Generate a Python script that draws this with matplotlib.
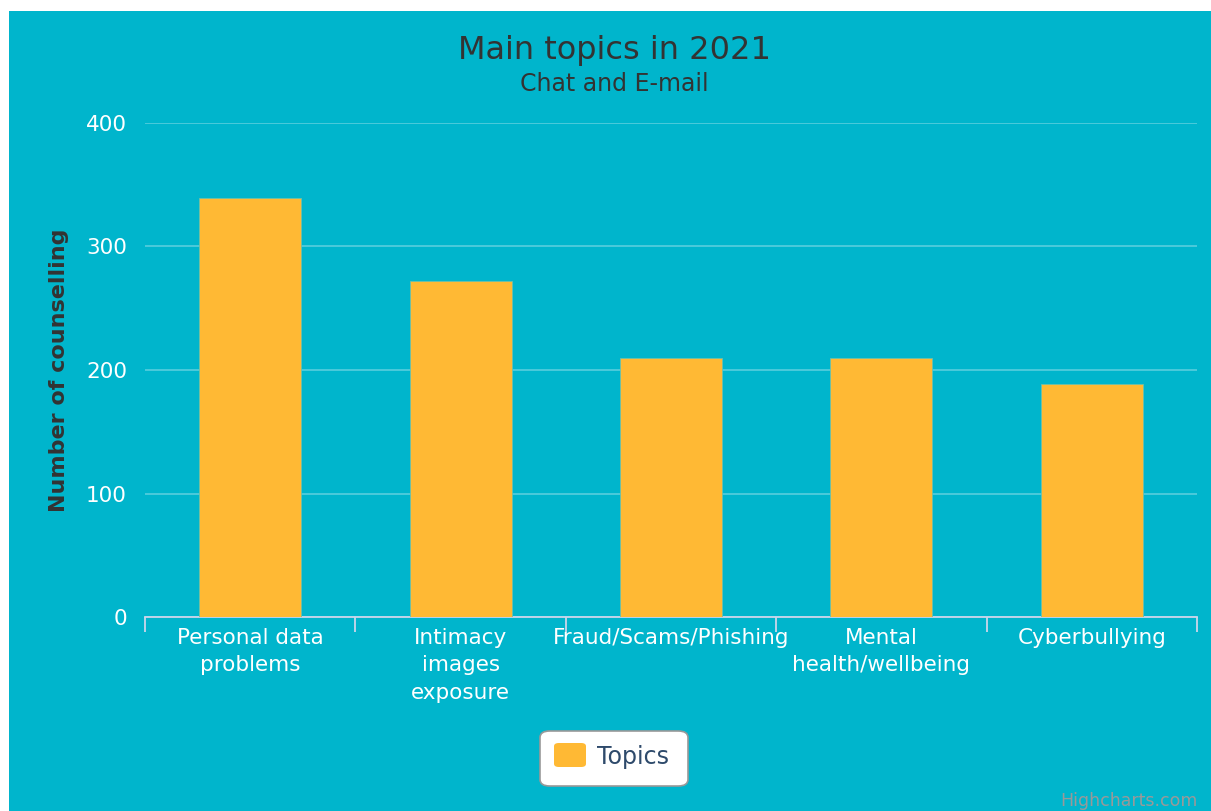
import numpy as np
import matplotlib.pyplot as plt
from matplotlib.patches import Rectangle, FancyBboxPatch

categories = ['Personal data\nproblems', 'Intimacy\nimages\nexposure',
              'Fraud/Scams/Phishing', 'Mental\nhealth/wellbeing', 'Cyberbullying']
values = [339, 272, 210, 210, 189]
yticks = [0, 100, 200, 300, 400]

TEAL = '#00b5cc'
BAR = '#ffb934'
W, H = 1211, 811

fig = plt.figure(figsize=(W / 100, H / 100), dpi=100, facecolor='white')
fig.patches.append(Rectangle((9 / W, 0), 1, 1 - 11 / H, transform=fig.transFigure,
                             facecolor=TEAL, edgecolor='none', zorder=-10))

ax = fig.add_axes([145 / W, 1 - 617 / H, (1197 - 145) / W, (617 - 123) / H])
ax.set_facecolor('none')
x = np.arange(len(categories))
ax.bar(x, values, width=0.485, color=BAR, edgecolor='#6fc0a8', linewidth=0.6, zorder=3)
ax.set_xlim(-0.5, len(categories) - 0.5)
ax.set_ylim(0, 400)

ax.set_yticks(yticks)
ax.grid(axis='y', color='#4ccadb', linewidth=1.4, zorder=0)
ax.tick_params(axis='y', length=0, labelsize=15.5, labelcolor='white', pad=13)

ax.set_xticks(x)
ax.set_xticklabels(categories, color='white', fontsize=15.5, linespacing=1.45, va='top')
ax.set_xticks(np.arange(-0.5, len(categories)), minor=True)
ax.tick_params(axis='x', which='major', length=0, pad=8)
ax.tick_params(axis='x', which='minor', length=11, color='#ccd6eb', width=1.3)

for s in ['top', 'right', 'left']:
    ax.spines[s].set_visible(False)
ax.spines['bottom'].set_color('#ccd6eb')
ax.spines['bottom'].set_linewidth(1.3)

ax.set_ylabel('Number of counselling', fontsize=16, fontweight='bold', color='#333333',
              labelpad=12)

fig.text(614 / W, 1 - 50 / H, 'Main topics in 2021', ha='center', va='center',
         fontsize=23, color='#333333')
fig.text(614 / W, 1 - 84 / H, 'Chat and E-mail', ha='center', va='center',
         fontsize=17, color='#333333')

# legend box
fig.patches.append(FancyBboxPatch((540 / W, 1 - 786 / H), 148 / W, 55 / H,
                                  boxstyle='round,pad=0,rounding_size=0.008',
                                  transform=fig.transFigure, facecolor='white',
                                  edgecolor='#999999', linewidth=1.2))
fig.patches.append(FancyBboxPatch((554 / W, 1 - 767 / H), 32 / W, 24 / H,
                                  boxstyle='round,pad=0,rounding_size=0.004',
                                  transform=fig.transFigure, facecolor=BAR,
                                  edgecolor='none'))
fig.text(597 / W, 1 - 757 / H, 'Topics', ha='left', va='center', fontsize=17,
         color='#2e4a6b')

fig.text(1198 / W, 1 - 801 / H, 'Highcharts.com', ha='right', va='center',
         fontsize=12.5, color='#999999')

fig.savefig('out.png', dpi=100, facecolor=fig.get_facecolor())
